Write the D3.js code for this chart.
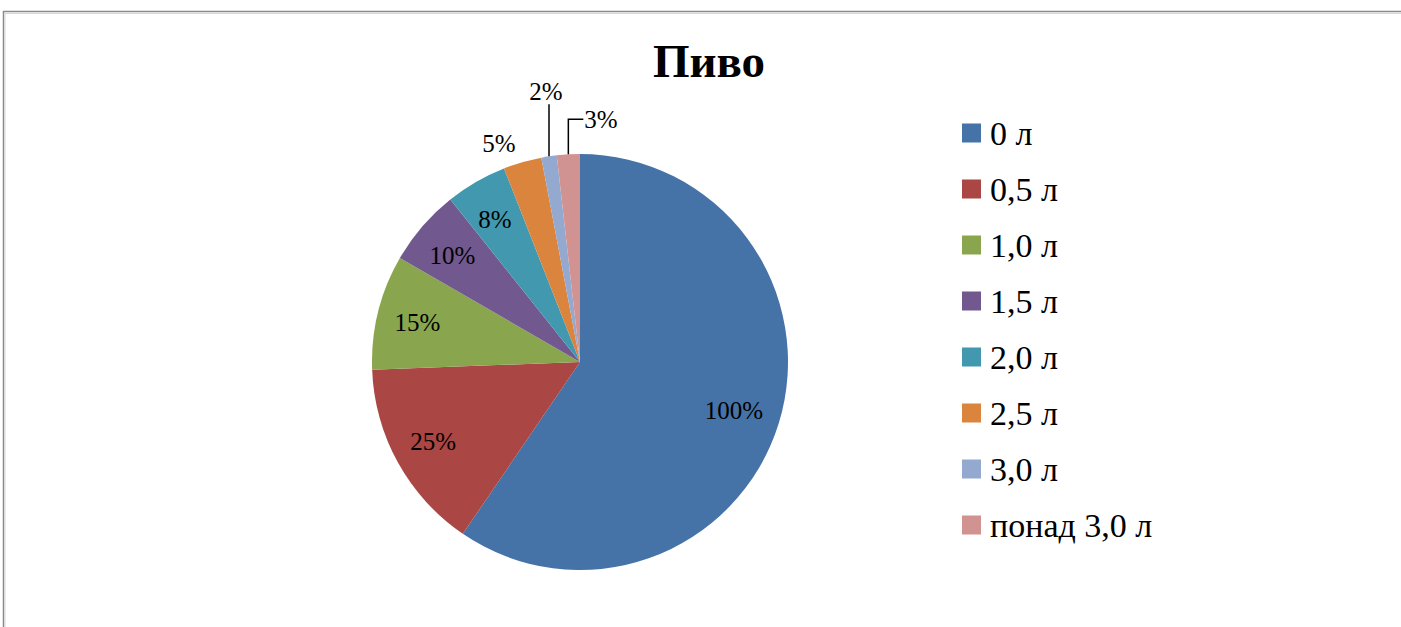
<!DOCTYPE html>
<html>
<head>
<meta charset="utf-8">
<script src="https://cdn.jsdelivr.net/npm/d3@7/dist/d3.min.js"></script>
<style>
  html, body { margin: 0; padding: 0; background: #fff; }
  svg { display: block; }
  text { font-family: "Liberation Serif", "Times New Roman", serif; fill: #000; }
</style>
</head>
<body>
<div id="chart"></div>
<script>
// data
const categories = ['0 л', '0,5 л', '1,0 л', '1,5 л', '2,0 л', '2,5 л', '3,0 л', 'понад 3,0 л'];
const values = [100, 25, 15, 10, 8, 5, 2, 3];
const colorList = ['#4572A7', '#AA4643', '#89A54E', '#71588F', '#4198AF', '#DB843D', '#93A9CF', '#D19392'];
const title = 'Пиво';

const W = 1401, H = 627;
const cx = 580, cy = 362, R = 208;

const svg = d3.select('#chart').append('svg')
  .attr('width', W)
  .attr('height', H);

// frame
svg.append('rect')
  .attr('x', 3.5).attr('y', 11.5)
  .attr('width', W + 10).attr('height', H + 10)
  .attr('fill', 'none')
  .attr('stroke', '#8a8a8a')
  .attr('stroke-width', 1.5);
svg.append('path')
  .attr('d', `M5 ${H} V13.5 H${W}`)
  .attr('fill', 'none')
  .attr('stroke', '#d8d8d8')
  .attr('stroke-width', 1);

svg.append('text')
  .attr('x', 709)
  .attr('y', 77)
  .attr('text-anchor', 'middle')
  .attr('font-size', 47)
  .attr('font-weight', 'bold')
  .text(title);

const data = categories.map((c, i) => ({ cat: c, v: values[i], color: colorList[i] }));

const pie = d3.pie().sort(null).value(d => d.v);
const arcs = pie(data);
const arc = d3.arc().innerRadius(0).outerRadius(R);

const g = svg.append('g').attr('transform', `translate(${cx},${cy})`);

g.selectAll('path.slice')
  .data(arcs)
  .enter().append('path')
  .attr('class', 'slice')
  .attr('d', arc)
  .attr('fill', d => d.data.color);

// labels
const gLB = g.append('g');
const inside = d3.arc().innerRadius(R * 0.79).outerRadius(R * 0.79);
const outside = d3.arc().innerRadius(R * 1.05).outerRadius(R * 1.05);
const edge = d3.arc().innerRadius(R).outerRadius(R);
const labelSize = 25;

arcs.forEach((a, i) => {
  const span = a.endAngle - a.startAngle;
  const txt = `${a.data.v}%`;
  if (span > 0.25) {
    const [x, y] = inside.centroid(a);
    gLB.append('text')
      .attr('x', x - 3).attr('y', y).attr('dy', '0.35em')
      .attr('text-anchor', 'middle')
      .attr('font-size', labelSize)
      .text(txt);
  } else if (span > 0.15) {
    const [x, y] = outside.centroid(a);
    gLB.append('text')
      .attr('x', x - 4).attr('y', y)
      .attr('text-anchor', 'end')
      .attr('font-size', labelSize)
      .text(txt);
  } else {
    const [x, y] = edge.centroid(a);
    if (i < arcs.length - 1) {
      // straight leader up
      const y2 = y - 52;
      g.append('line')
        .attr('x1', x).attr('y1', y).attr('x2', x).attr('y2', y2)
        .attr('stroke', '#000').attr('stroke-width', 1.5);
      gLB.append('text')
        .attr('x', x - 3).attr('y', y2 - 4)
        .attr('text-anchor', 'middle')
        .attr('font-size', labelSize)
        .text(txt);
    } else {
      const y2 = y - 35;
      g.append('path')
        .attr('d', `M${x} ${y} V${y2} H${x + 15}`)
        .attr('fill', 'none')
        .attr('stroke', '#000').attr('stroke-width', 1.5);
      gLB.append('text')
        .attr('x', x + 16).attr('y', y2).attr('dy', '0.35em')
        .attr('text-anchor', 'start')
        .attr('font-size', labelSize)
        .text(txt);
    }
  }
});

// legend
const legend = svg.append('g').attr('transform', 'translate(962,133)');
data.forEach((d, i) => {
  const row = legend.append('g').attr('transform', `translate(0,${i * 56})`);
  row.append('rect')
    .attr('x', 0).attr('y', -9.5)
    .attr('width', 19).attr('height', 19)
    .attr('fill', d.color);
  row.append('text')
    .attr('x', 28).attr('y', 0).attr('dy', '0.35em')
    .attr('font-size', 34)
    .text(d.cat);
});
</script>
</body>
</html>
